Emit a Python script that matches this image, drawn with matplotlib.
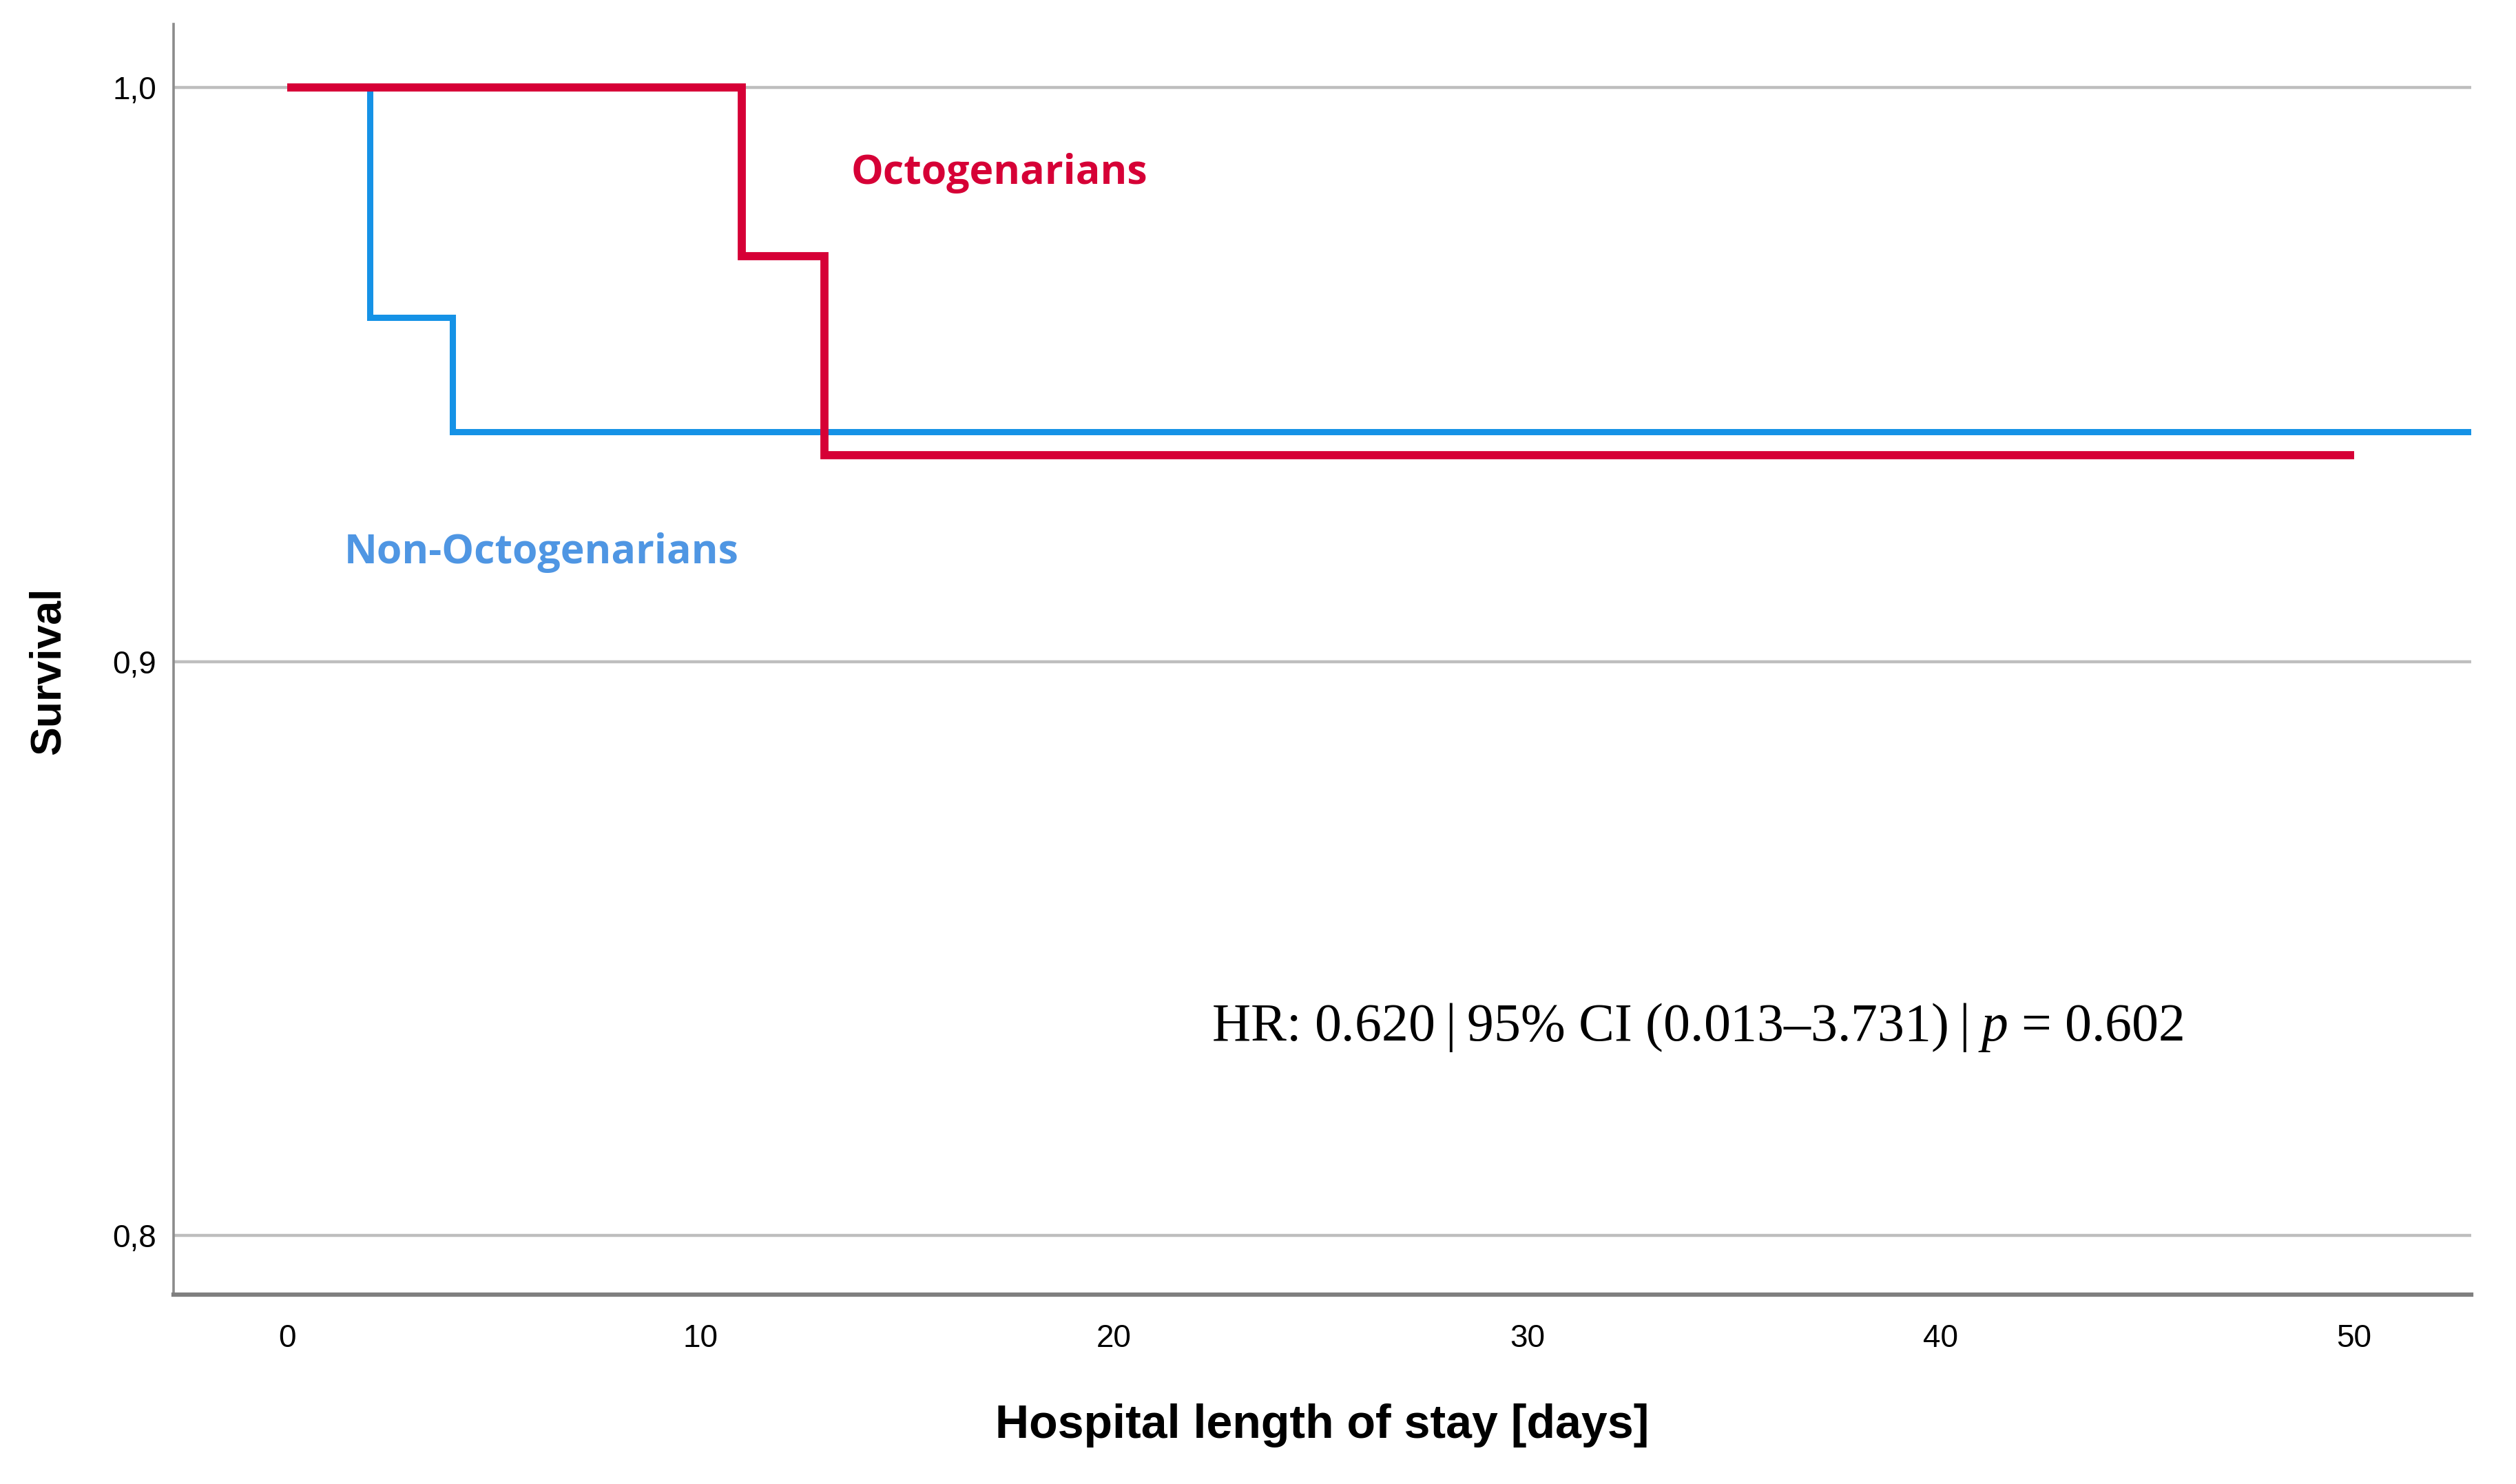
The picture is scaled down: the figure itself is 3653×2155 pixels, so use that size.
import matplotlib
matplotlib.use("Agg")
import matplotlib.pyplot as plt

# Kaplan-Meier steps
octo_days = [0, 11, 13, 50]
octo_surv = [1.0, 0.9706, 0.936, 0.936]
non_days = [0, 2, 4, 53]
non_surv = [1.0, 0.96, 0.94, 0.94]

x_ticks = [0, 10, 20, 30, 40, 50]
y_ticks = [0.8, 0.9, 1.0]
y_tick_labels = ["0,8", "0,9", "1,0"]

red = "#D60036"
blue = "#1592E6"
blue_txt = "#4F96E3"

plt.rcParams['mathtext.fontset'] = 'custom'
plt.rcParams['mathtext.rm'] = 'Liberation Serif'
plt.rcParams['mathtext.it'] = 'Liberation Serif:italic'

fig = plt.figure(figsize=(36.53, 21.55), dpi=100)
ax = fig.add_axes([0.0690, 0.1276, 0.9132, 0.8562])

for y in y_ticks:
    ax.axhline(y, color="#BEBEBE", lw=3.2, zorder=1)

ax.step(non_days, non_surv, where="post", color=blue, lw=6.5, zorder=3,
        solid_joinstyle="miter", solid_capstyle="butt")
ax.step(octo_days, octo_surv, where="post", color=red, lw=8.5, zorder=4,
        solid_joinstyle="miter", solid_capstyle="butt")

ax.set_xlim(-2.75, 52.83)
ax.set_ylim(0.7897, 1.0111)
ax.set_xticks(x_ticks)
ax.set_yticks(y_ticks)
ax.set_yticklabels(y_tick_labels)
ax.tick_params(axis="x", length=0, pad=30, labelsize=33)
ax.tick_params(axis="y", length=0, pad=18, labelsize=33)
for lab in ax.get_xticklabels() + ax.get_yticklabels():
    lab.set_family("Liberation Sans")

for s in ["top", "right"]:
    ax.spines[s].set_visible(False)
ax.spines["left"].set_color("#8C8C8C")
ax.spines["left"].set_linewidth(2.6)
ax.spines["bottom"].set_color("#7F7F7F")
ax.spines["bottom"].set_linewidth(4.5)

ax.text(13.63, 0.9851, "Octogenarians", color=red, fontsize=42.5, fontweight="bold",
        family="Open Sans", ha="left", va="center")
ax.text(1.37, 0.9190, "Non-Octogenarians", color=blue_txt, fontsize=42.5, fontweight="bold",
        family="Open Sans", ha="left", va="center")
ax.text(22.36, 0.8363, "HR: 0.620\u2009|\u200995% CI (0.013\u20133.731)\u2009|\u2009$p$ = 0.602",
        fontsize=56, family=["Liberation Serif", "DejaVu Serif"], ha="left", va="center")

fig.text(70 / 3653, 1 - 974 / 2155, "Survival", rotation=90, fontsize=45, fontweight="bold",
         family="Liberation Sans", ha="center", va="center")
fig.text(1920 / 3653, 1 - 2070 / 2155, "Hospital length of stay [days]", fontsize=49,
         fontweight="bold", family="Liberation Sans", ha="center", va="center")

fig.savefig("out.png", dpi=100, facecolor="white")
